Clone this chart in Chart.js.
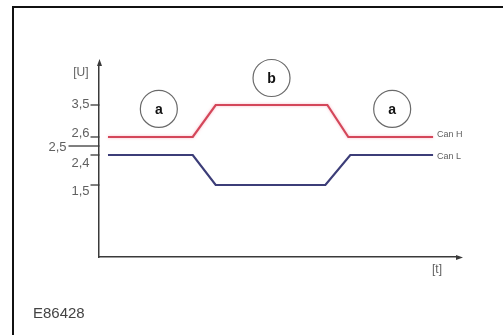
<!DOCTYPE html>
<html lang="en">
<head>
<meta charset="UTF-8">
<title>CAN bus levels</title>
<script src="https://cdn.jsdelivr.net/npm/chart.js@4.4.0/dist/chart.umd.min.js"></script>
<style>
    html, body { margin: 0; padding: 0; background: #fff; overflow: hidden; }
    canvas { display: block; }
</style>
</head>
<body>
<canvas id="busChart" width="503" height="335"></canvas>
<script>
    // time base (arbitrary units) and voltage of both bus wires
    var timeH = [0.9, 9.4, 11.7, 22.9, 25.0, 33.5];
    var canH  = [2.6, 2.6, 3.5, 3.5, 2.6, 2.6];
    var timeL = [0.9, 9.4, 11.7, 22.7, 25.2, 33.5];
    var canL  = [2.4, 2.4, 1.5, 1.5, 2.4, 2.4];
    var lineNames = ['Can H', 'Can L'];

    // ticks on the U axis
    var yTicks = [3.5, 2.6, 2.5, 2.4, 1.5];
    var yTickLabels = ['3,5', '2,6', '2,5', '2,4', '1,5'];

    // bus state markers: a = recessive, b = dominant
    var stateLetters = ['a', 'b', 'a'];
    var stateTime = [6.0, 17.3, 29.4];
    var stateLevel = [3.39, 4.29, 3.39];

    // the U axis is only schematic, levels around 2,5 V are pulled apart
    var yBreaks = [[0, 0], [1.5, 0.373], [2.4, 0.5285], [2.5, 0.5751], [2.6, 0.6218], [3.5, 0.7876], [4.7, 1]];

    function toFrac(v) {
        for (var i = 1; i < yBreaks.length; i++) {
            var a = yBreaks[i - 1], b = yBreaks[i];
            if (v <= b[0] || i === yBreaks.length - 1) {
                return a[1] + (v - a[0]) / (b[0] - a[0]) * (b[1] - a[1]);
            }
        }
    }
    function fromFrac(f) {
        for (var i = 1; i < yBreaks.length; i++) {
            var a = yBreaks[i - 1], b = yBreaks[i];
            if (f <= b[1] || i === yBreaks.length - 1) {
                return a[0] + (f - a[1]) / (b[1] - a[1]) * (b[0] - a[0]);
            }
        }
    }

    class SchematicScale extends Chart.LinearScale {
        getPixelForValue(value) {
            return this.bottom - toFrac(value) * (this.bottom - this.top);
        }
        getValueForPixel(pixel) {
            return fromFrac((this.bottom - pixel) / (this.bottom - this.top));
        }
    }
    SchematicScale.id = 'schematic';
    Chart.register(SchematicScale);

    function pts(xs, ys) {
        return xs.map(function (x, i) { return {x: x, y: ys[i]}; });
    }

    var axisColor = '#3a3a3a';
    var labelFont = '"Liberation Sans", Arial, sans-serif';

    // frame, tick marks, arrows and all the small texts
    var decorPlugin = {
        id: 'decor',
        beforeDraw: function (chart) {
            var ctx = chart.ctx;
            ctx.save();
            ctx.fillStyle = '#fff';
            ctx.fillRect(0, 0, chart.width, chart.height);
            ctx.strokeStyle = '#111';
            ctx.lineWidth = 2;
            ctx.beginPath();
            ctx.moveTo(13, chart.height);
            ctx.lineTo(13, 7);
            ctx.lineTo(chart.width, 7);
            ctx.stroke();
            ctx.restore();
        },
        beforeDatasetDraw: function (chart, args) {
            if (args.index === 0) {
                chart.ctx.save();
                chart.ctx.shadowColor = 'rgba(245, 140, 160, 0.6)';
                chart.ctx.shadowBlur = 3;
            }
        },
        afterDatasetDraw: function (chart, args) {
            if (args.index === 0) chart.ctx.restore();
        },
        afterDraw: function (chart) {
            var ctx = chart.ctx;
            var area = chart.chartArea;
            var y = chart.scales.y;
            var ax = Math.round(area.left) + 0.5;
            ctx.save();

            // tick marks, 2,5 gets the long one
            ctx.strokeStyle = axisColor;
            ctx.lineWidth = 1.3;
            var labelShift = [-1, -4, 1, 8, 6];
            yTicks.forEach(function (v, i) {
                var py = y.getPixelForValue(v);
                var len = v === 2.5 ? 31 : 9;
                ctx.beginPath();
                ctx.moveTo(ax - len, py);
                ctx.lineTo(ax, py);
                ctx.stroke();
                ctx.fillStyle = '#606060';
                ctx.font = '13px ' + labelFont;
                ctx.textAlign = 'right';
                ctx.textBaseline = 'middle';
                var lx = v === 2.5 ? ax - 33 : ax - 10;
                ctx.fillText(yTickLabels[i], lx, py + labelShift[i]);
            });

            // arrow heads
            ctx.fillStyle = axisColor;
            ctx.beginPath();
            ctx.moveTo(ax, area.top - 5);
            ctx.lineTo(ax - 2.5, area.top + 2);
            ctx.lineTo(ax + 2.5, area.top + 2);
            ctx.closePath();
            ctx.fill();
            var by = Math.round(area.bottom) + 0.5;
            ctx.beginPath();
            ctx.moveTo(area.right + 5, by);
            ctx.lineTo(area.right - 2, by - 2.5);
            ctx.lineTo(area.right - 2, by + 2.5);
            ctx.closePath();
            ctx.fill();

            // axis names
            ctx.fillStyle = '#606060';
            ctx.font = '12px ' + labelFont;
            ctx.textAlign = 'right';
            ctx.textBaseline = 'middle';
            ctx.fillText('[U]', ax - 11, area.top + 9);
            ctx.textAlign = 'center';
            ctx.fillText('[t]', area.right - 21, area.bottom + 13);

            // wire names at the end of each line
            ctx.font = '9px ' + labelFont;
            ctx.textAlign = 'left';
            [0, 1].forEach(function (d) {
                var meta = chart.getDatasetMeta(d);
                var last = meta.data[meta.data.length - 1];
                ctx.fillText(lineNames[d], last.x + 4, last.y + (d === 0 ? -2 : 2));
            });

            // letters inside the state circles
            var meta = chart.getDatasetMeta(2);
            ctx.fillStyle = '#111';
            ctx.font = 'bold 14px ' + labelFont;
            ctx.textAlign = 'center';
            meta.data.forEach(function (p, i) {
                ctx.fillText(stateLetters[i], p.x, p.y + 1);
            });

            // drawing number
            ctx.fillStyle = '#444';
            ctx.font = '15px ' + labelFont;
            ctx.textAlign = 'left';
            ctx.fillText('E86428', 33, 314);
            ctx.restore();
        }
    };

    var ctx = document.getElementById('busChart').getContext('2d');
    var chart = new Chart(ctx, {
        type: 'line',
        data: {
            datasets: [{
                label: lineNames[0],
                data: pts(timeH, canH),
                borderColor: '#d4475a',
                borderWidth: 2.2,
                pointRadius: 0,
                tension: 0,
                fill: false
            }, {
                label: lineNames[1],
                data: pts(timeL, canL),
                borderColor: '#3c3d78',
                borderWidth: 2.2,
                pointRadius: 0,
                tension: 0,
                fill: false
            }, {
                type: 'scatter',
                label: 'state',
                data: pts(stateTime, stateLevel),
                showLine: false,
                clip: false,
                pointRadius: 18.5,
                pointBackgroundColor: '#fff',
                pointBorderColor: '#6a6a6a',
                pointBorderWidth: 1.2
            }]
        },
        options: {
            responsive: false,
            animation: false,
            events: [],
            layout: { padding: { left: 99, right: 45, top: 64, bottom: 78 } },
            plugins: { legend: { display: false }, tooltip: { enabled: false } },
            scales: {
                x: {
                    type: 'linear',
                    min: 0,
                    max: 36,
                    grid: { display: false, drawTicks: false },
                    ticks: { display: false },
                    border: { display: true, color: axisColor, width: 1.5 }
                },
                y: {
                    type: 'schematic',
                    min: 0,
                    max: 4.7,
                    grid: { display: false, drawTicks: false },
                    ticks: { display: false },
                    border: { display: true, color: axisColor, width: 1.5 }
                }
            }
        },
        plugins: [decorPlugin]
    });
</script>
</body>
</html>
